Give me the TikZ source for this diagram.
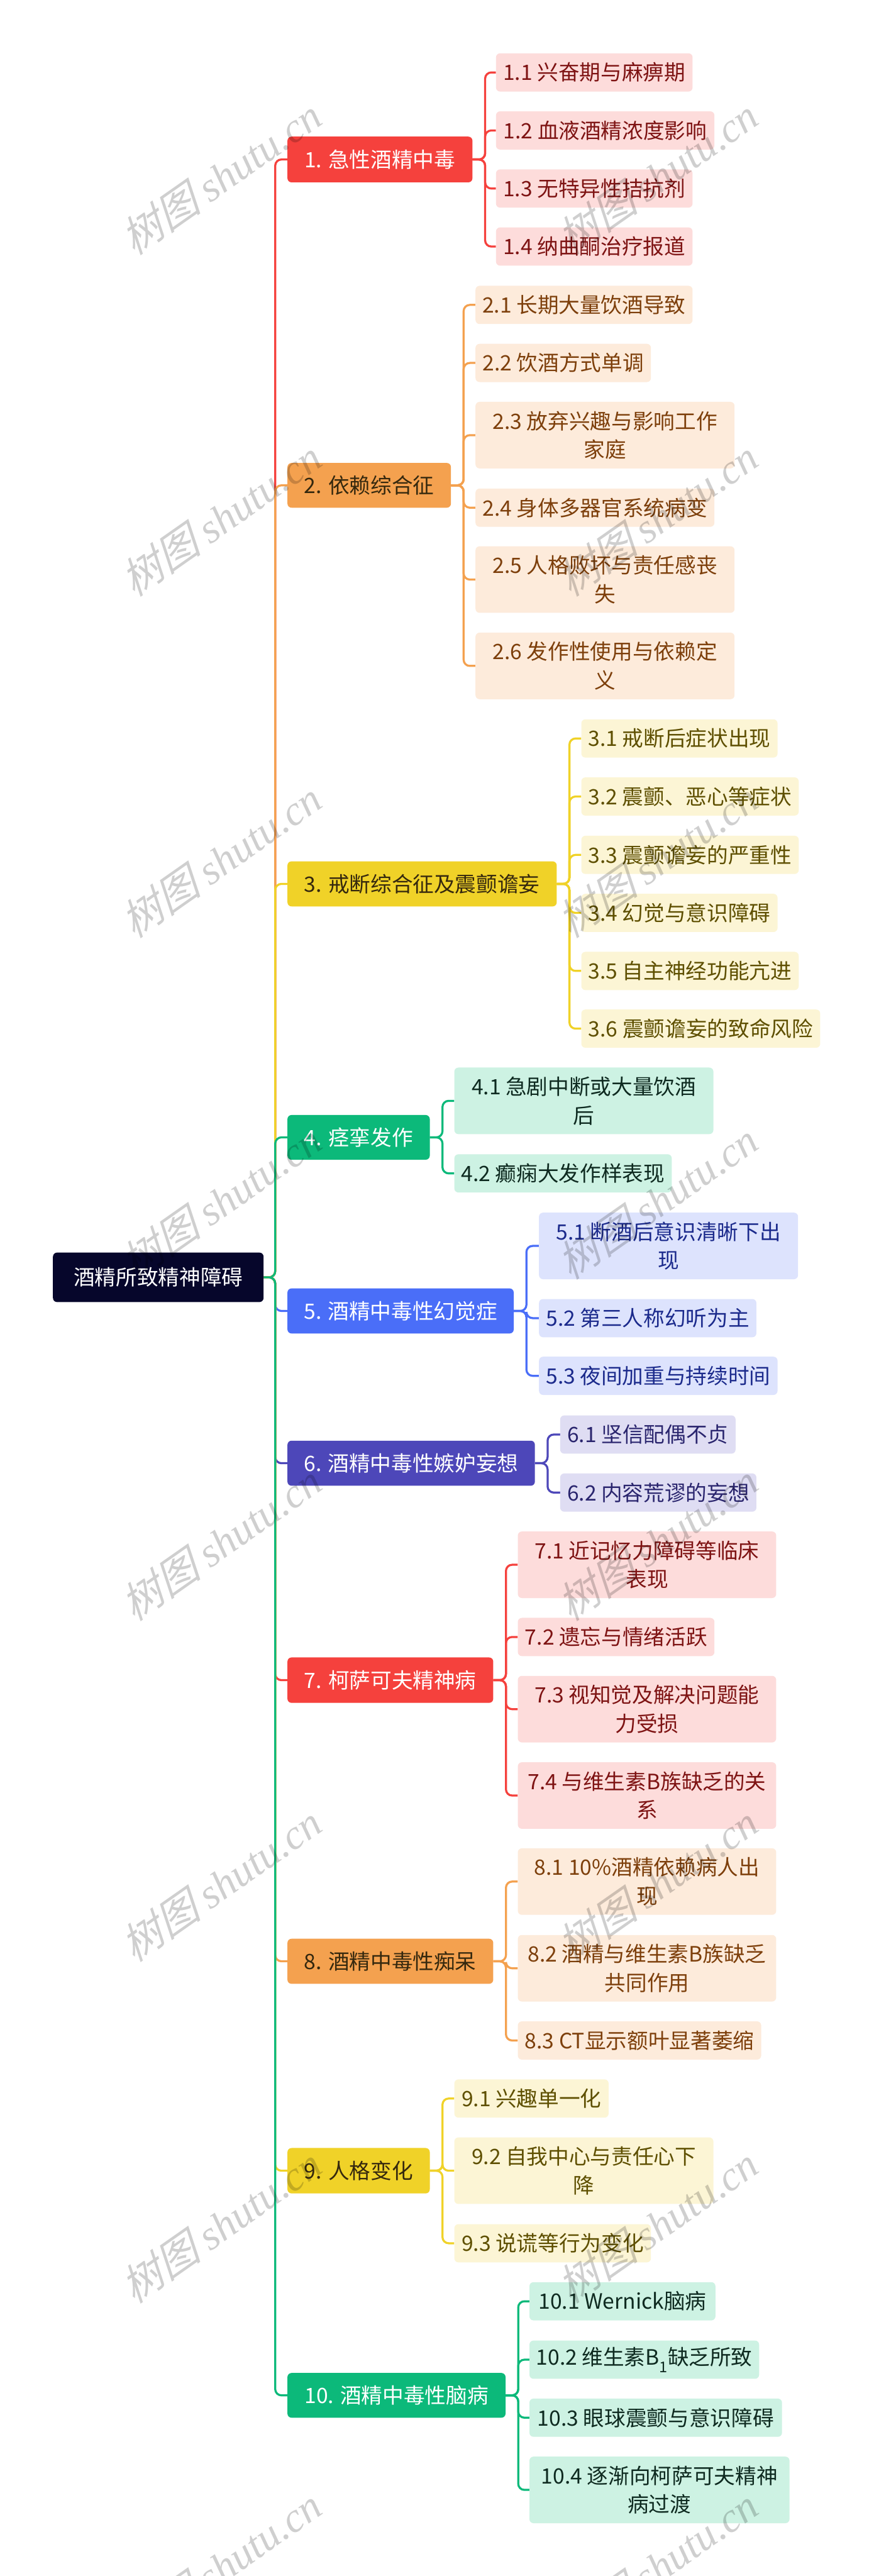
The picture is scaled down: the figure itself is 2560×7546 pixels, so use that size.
\documentclass[tikz,border=0pt]{standalone}
\usepackage{fontspec}
\setmainfont{Noto Sans CJK SC}
\newfontfamily\wmcjk{Noto Sans CJK SC}[FakeSlant=0.3]
\newfontfamily\wmlat{Liberation Serif}
\usetikzlibrary{backgrounds}
\definecolor{cRed}{HTML}{F5413D}
\definecolor{cRedL}{HTML}{FDDCDB}
\definecolor{cRedT}{HTML}{7E1313}
\definecolor{cOr}{HTML}{F4A14F}
\definecolor{cOrL}{HTML}{FDEBDB}
\definecolor{cOrT}{HTML}{7D3F0B}
\definecolor{cYe}{HTML}{F0D228}
\definecolor{cYeL}{HTML}{FCF5D5}
\definecolor{cYeT}{HTML}{5E4F00}
\definecolor{cGr}{HTML}{0CB97A}
\definecolor{cGrL}{HTML}{CDF2E3}
\definecolor{cGrT}{HTML}{0E2A20}
\definecolor{cBl}{HTML}{4A6EF8}
\definecolor{cBlL}{HTML}{DDE3FD}
\definecolor{cBlT}{HTML}{1B2A8C}
\definecolor{cIn}{HTML}{4D47B9}
\definecolor{cInL}{HTML}{DFDDF3}
\definecolor{cInT}{HTML}{2A256E}
\definecolor{cRoot}{HTML}{06062B}
\definecolor{cDk}{HTML}{35280E}
\tikzset{
  box/.style={rounded corners=12pt, inner sep=0pt, align=center, anchor=north west,
    font=\fontsize{62}{84}\selectfont},
  conn/.style={line width=6pt, rounded corners=18pt},
  wm/.style={rotate=35, text=black, opacity=0.19, inner sep=0pt},
}
\begin{document}
\begin{tikzpicture}[x=1pt,y=-1pt]
\useasboundingbox (0,0) rectangle (2560,7546);
% root
\node[box, fill=cRoot, text=white, minimum width=617pt, minimum height=145pt] (root) at (155,3669) {酒精所致精神障碍};
% level 1
\node[box, fill=cRed, text=white, minimum width=542pt, minimum height=134pt] (n1) at (842,400) {1. 急性酒精中毒};
\node[box, fill=cOr, text=cDk, minimum width=479pt, minimum height=131pt] (n2) at (842,1356) {2. 依赖综合征};
\node[box, fill=cYe, text=cDk, minimum width=789pt, minimum height=132pt] (n3) at (842,2523) {3. 戒断综合征及震颤谵妄};
\node[box, fill=cGr, text=white, minimum width=417pt, minimum height=131pt] (n4) at (842,3266) {4. 痉挛发作};
\node[box, fill=cBl, text=white, minimum width=663pt, minimum height=132pt] (n5) at (842,3774) {5. 酒精中毒性幻觉症};
\node[box, fill=cIn, text=white, minimum width=725pt, minimum height=132pt] (n6) at (842,4220) {6. 酒精中毒性嫉妒妄想};
\node[box, fill=cRed, text=white, minimum width=603pt, minimum height=133pt] (n7) at (842,4855) {7. 柯萨可夫精神病};
\node[box, fill=cOr, text=cDk, minimum width=603pt, minimum height=132pt] (n8) at (842,5679) {8. 酒精中毒性痴呆};
\node[box, fill=cYe, text=cDk, minimum width=417pt, minimum height=133pt] (n9) at (842,6292) {9. 人格变化};
\node[box, fill=cGr, text=white, minimum width=639pt, minimum height=131pt] (n10) at (842,6951) {10. 酒精中毒性脑病};
% group 1
\tikzset{g/.style={box, fill=cRedL, text=cRedT, minimum height=112pt}}
\node[g, minimum width=576pt] (n1a) at (1453,156) {1.1 兴奋期与麻痹期};
\node[g, minimum width=640pt] (n1b) at (1453,326) {1.2 血液酒精浓度影响};
\node[g, minimum width=576pt] (n1c) at (1453,496) {1.3 无特异性拮抗剂};
\node[g, minimum width=576pt] (n1d) at (1453,666) {1.4 纳曲酮治疗报道};
% group 2
\tikzset{g/.style={box, fill=cOrL, text=cOrT, minimum height=112pt}}
\node[g, minimum width=636pt] (n2a) at (1393,837) {2.1 长期大量饮酒导致};
\node[g, minimum width=514pt] (n2b) at (1393,1007) {2.2 饮酒方式单调};
\node[g, minimum width=759pt, minimum height=195pt] (n2c) at (1393,1177) {2.3 放弃兴趣与影响工作\\家庭};
\node[g, minimum width=700pt] (n2d) at (1393,1431) {2.4 身体多器官系统病变};
\node[g, minimum width=759pt, minimum height=195pt] (n2e) at (1393,1600) {2.5 人格败坏与责任感丧\\失};
\node[g, minimum width=759pt, minimum height=195pt] (n2f) at (1393,1853) {2.6 发作性使用与依赖定\\义};
% group 3
\tikzset{g/.style={box, fill=cYeL, text=cYeT, minimum height=112pt}}
\node[g, minimum width=575pt] (n3a) at (1703,2107) {3.1 戒断后症状出现};
\node[g, minimum width=637pt] (n3b) at (1703,2277) {3.2 震颤、恶心等症状};
\node[g, minimum width=637pt] (n3c) at (1703,2448) {3.3 震颤谵妄的严重性};
\node[g, minimum width=575pt] (n3d) at (1703,2618) {3.4 幻觉与意识障碍};
\node[g, minimum width=637pt] (n3e) at (1703,2788) {3.5 自主神经功能亢进};
\node[g, minimum width=700pt] (n3f) at (1703,2957) {3.6 震颤谵妄的致命风险};
% group 4
\tikzset{g/.style={box, fill=cGrL, text=cGrT, minimum height=112pt}}
\node[g, minimum width=759pt, minimum height=195pt] (n4a) at (1331,3127) {4.1 急剧中断或大量饮酒\\后};
\node[g, minimum width=637pt] (n4b) at (1331,3381) {4.2 癫痫大发作样表现};
% group 5
\tikzset{g/.style={box, fill=cBlL, text=cBlT, minimum height=112pt}}
\node[g, minimum width=759pt, minimum height=195pt] (n5a) at (1579,3552) {5.1 断酒后意识清晰下出\\现};
\node[g, minimum width=637pt] (n5b) at (1579,3805) {5.2 第三人称幻听为主};
\node[g, minimum width=699pt] (n5c) at (1579,3974) {5.3 夜间加重与持续时间};
% group 6
\tikzset{g/.style={box, fill=cInL, text=cInT, minimum height=112pt}}
\node[g, minimum width=514pt] (n6a) at (1641,4146) {6.1 坚信配偶不贞};
\node[g, minimum width=575pt] (n6b) at (1641,4316) {6.2 内容荒谬的妄想};
% group 7
\tikzset{g/.style={box, fill=cRedL, text=cRedT, minimum height=112pt}}
\node[g, minimum width=757pt, minimum height=195pt] (n7a) at (1517,4486) {7.1 近记忆力障碍等临床\\表现};
\node[g, minimum width=576pt] (n7b) at (1517,4739) {7.2 遗忘与情绪活跃};
\node[g, minimum width=757pt, minimum height=195pt] (n7c) at (1517,4909) {7.3 视知觉及解决问题能\\力受损};
\node[g, minimum width=757pt, minimum height=195pt] (n7d) at (1517,5162) {7.4 与维生素B族缺乏的关\\系};
% group 8
\tikzset{g/.style={box, fill=cOrL, text=cOrT, minimum height=112pt}}
\node[g, minimum width=757pt, minimum height=195pt] (n8a) at (1517,5414) {8.1 10\%酒精依赖病人出\\现};
\node[g, minimum width=757pt, minimum height=195pt] (n8b) at (1517,5668) {8.2 酒精与维生素B族缺乏\\共同作用};
\node[g, minimum width=713pt] (n8c) at (1517,5921) {8.3 CT显示额叶显著萎缩};
% group 9
\tikzset{g/.style={box, fill=cYeL, text=cYeT, minimum height=112pt}}
\node[g, minimum width=452pt] (n9a) at (1331,6091) {9.1 兴趣单一化};
\node[g, minimum width=759pt, minimum height=195pt] (n9b) at (1331,6261) {9.2 自我中心与责任心下\\降};
\node[g, minimum width=576pt] (n9c) at (1331,6515) {9.3 说谎等行为变化};
% group 10
\tikzset{g/.style={box, fill=cGrL, text=cGrT, minimum height=112pt}}
\node[g, minimum width=545pt] (n10a) at (1551,6685) {10.1 Wernick脑病};
\node[g, minimum width=673pt] (n10b) at (1551,6856) {10.2 维生素B\textsubscript{1}缺乏所致};
\node[g, minimum width=740pt] (n10c) at (1551,7026) {10.3 眼球震颤与意识障碍};
\node[g, minimum width=762pt, minimum height=195pt] (n10d) at (1551,7196) {10.4 逐渐向柯萨可夫精神\\病过渡};
% connectors
\begin{pgfonlayer}{background}
\fill[white] (0,0) rectangle (2560,7546);
\draw[conn, cRed] (root.east) -- ++(34,0) |- (n1.west);
\draw[conn, cOr] (root.east) -- ++(34,0) |- (n2.west);
\draw[conn, cYe] (root.east) -- ++(34,0) |- (n3.west);
\draw[conn, cGr] (root.east) -- ++(34,0) |- (n4.west);
\draw[conn, cBl] (root.east) -- ++(34,0) |- (n5.west);
\draw[conn, cIn] (root.east) -- ++(34,0) |- (n6.west);
\draw[conn, cRed] (root.east) -- ++(34,0) |- (n7.west);
\draw[conn, cOr] (root.east) -- ++(34,0) |- (n8.west);
\draw[conn, cYe] (root.east) -- ++(34,0) |- (n9.west);
\draw[conn, cGr] (root.east) -- ++(34,0) |- (n10.west);
\foreach \c in {n1a,n1b,n1c,n1d} \draw[conn, cRed] (n1.east) -- ++(37,0) |- (\c.west);
\foreach \c in {n2a,n2b,n2c,n2d,n2e,n2f} \draw[conn, cOr] (n2.east) -- ++(37,0) |- (\c.west);
\foreach \c in {n3a,n3b,n3c,n3d,n3e,n3f} \draw[conn, cYe] (n3.east) -- ++(37,0) |- (\c.west);
\foreach \c in {n4a,n4b} \draw[conn, cGr] (n4.east) -- ++(37,0) |- (\c.west);
\foreach \c in {n5a,n5b,n5c} \draw[conn, cBl] (n5.east) -- ++(37,0) |- (\c.west);
\foreach \c in {n6a,n6b} \draw[conn, cIn] (n6.east) -- ++(37,0) |- (\c.west);
\foreach \c in {n7a,n7b,n7c,n7d} \draw[conn, cRed] (n7.east) -- ++(37,0) |- (\c.west);
\foreach \c in {n8a,n8b,n8c} \draw[conn, cOr] (n8.east) -- ++(37,0) |- (\c.west);
\foreach \c in {n9a,n9b,n9c} \draw[conn, cYe] (n9.east) -- ++(37,0) |- (\c.west);
\foreach \c in {n10a,n10b,n10c,n10d} \draw[conn, cGr] (n10.east) -- ++(37,0) |- (\c.west);
\end{pgfonlayer}
% watermarks
\foreach \k in {0,...,7} {
  \node[wm] (wl\k) at (646,{518+1000*\k}) {\fontsize{122}{122}\selectfont{\wmcjk 树图} {\wmlat\itshape shutu.cn}};
  \node[wm] (wr\k) at (1925,{518+1000*\k}) {\fontsize{122}{122}\selectfont{\wmcjk 树图} {\wmlat\itshape shutu.cn}};
}
\end{tikzpicture}
\end{document}
